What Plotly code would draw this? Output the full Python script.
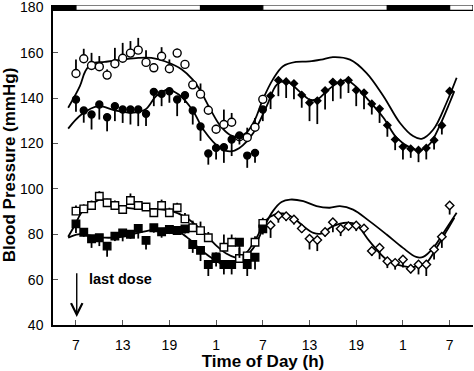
import plotly.graph_objects as go

# ---------------- data ----------------
hours_day1 = list(range(7, 32))          # 7 .. 31
hours_all = list(range(7, 56))           # 7 .. 55
hours_day2 = list(range(32, 56))         # 32 .. 55

sys_open = [150.9, 157.4, 154.4, 153.9, 150.2, 155.2, 157.6, 159.9, 161.2, 155.8,
            153.4, 158.5, 153.0, 159.9, 154.9, 145.9, 141.8, 134.7, 126.3, 128.4,
            129.4, 123.0, 122.7, 127.2, 139.5]
sys_open_err = [6.2, 4.4, 5.6, 4.7, 2.5, 7.0, 6.8, 5.3, 5.4, 5.3,
                2.0, 4.0, 4.1, 2.0, 2.0, 2.0, 4.7, 2.0, 2.0, 6.6,
                4.1, 2.0, 4.3, 4.1, 2.0]

sys_fill = [139.4, 134.6, 132.8, 137.2, 131.6, 136.5, 135.0, 135.0, 135.0, 133.1,
            142.8, 141.9, 143.1, 139.4, 141.3, 134.6, 127.5, 115.6, 118.1, 118.4,
            121.8, 123.6, 114.7, 115.9, 135.0,
            141.1, 147.9, 147.3, 146.5, 141.4, 138.0, 138.9, 143.4, 147.1, 146.8,
            147.9, 143.5, 142.4, 137.5, 135.3, 128.1, 121.8, 118.6, 117.7, 117.1,
            118.0, 121.5, 128.0, 143.1]
sys_fill_err = [5.4, 5.4, 6.6, 6.6, 6.2, 6.6, 5.9, 6.6, 7.3, 5.4,
                6.3, 5.4, 5.1, 7.3, 3.4, 6.2, 6.3, 4.9, 5.1, 6.9,
                7.3, 4.0, 5.4, 4.4, 5.1,
                5.9, 7.0, 7.2, 7.0, 5.6, 8.1, 10.3, 8.4, 8.4, 7.0,
                5.6, 7.0, 7.3, 4.7, 6.2, 5.1, 4.7, 5.6, 4.0, 5.3,
                5.0, 4.1, 4.0, 0.0]

dia_open = [90.2, 91.2, 92.7, 96.8, 93.9, 92.7, 90.9, 94.9, 92.7, 92.0,
            89.5, 92.7, 89.5, 91.7, 86.8, 82.9, 81.6, 78.5, 70.0, 74.3,
            76.5, 69.3, 70.5, 76.5, 84.8]
dia_open_err = [2.5, 2.0, 2.2, 2.2, 1.8, 2.2, 1.5, 3.1, 1.5, 1.6,
                1.5, 2.6, 2.2, 2.2, 2.6, 3.1, 4.0, 2.5, 2.0, 5.6,
                3.4, 4.7, 2.0, 2.6, 2.5]

dia_fill = [84.6, 80.9, 78.0, 78.5, 74.8, 79.2, 80.6, 80.0, 82.6, 77.3,
            82.9, 81.1, 82.1, 81.7, 82.4, 75.5, 72.9, 66.7, 69.3, 66.7,
            66.7, 76.5, 66.7, 69.9, 82.4]
dia_fill_err = [4.0, 2.0, 4.0, 3.7, 4.7, 2.2, 3.7, 2.0, 4.5, 4.0,
                2.2, 2.6, 2.0, 2.0, 2.0, 3.7, 4.7, 5.1, 3.5, 4.4,
                4.4, 6.9, 5.1, 5.4, 2.5]

dia_day2 = [84.0, 88.3, 88.0, 86.5, 82.6, 78.0, 77.5, 81.0, 85.3, 82.4,
            83.6, 83.9, 82.6, 72.6, 74.1, 68.1, 67.4, 68.9, 64.8, 66.7,
            66.7, 73.3, 78.9, 92.7]
dia_day2_err = [5.6, 3.2, 2.2, 2.2, 2.0, 4.7, 4.9, 2.0, 4.4, 3.2,
                1.5, 2.5, 2.0, 2.2, 5.1, 3.0, 3.0, 3.5, 2.0, 4.4,
                5.1, 4.4, 4.9, 4.0]

# fitted curves (read at selected hours)
sys_up_h = [6, 7.5, 8.2, 9, 10.7, 12.9, 15, 16.7, 18.4, 20.6, 22.0, 23.0, 24.2, 25.5,
            26.8, 27.8, 28.9, 30, 31, 32.3, 33.6, 35.3, 37, 38.5, 40, 42.2, 44.3,
            46.5, 48.6, 50.3, 51.4, 52.9, 54.6, 55.9]
sys_up_v = [135.8, 145.3, 151.9, 155.2, 156.0, 157.0, 157.8, 157.8, 156.3, 152.7,
            148.2, 143.2, 135.5, 128.0, 123.8, 123.0, 124.8, 130.6, 139.4, 148.3,
            154.1, 156.0, 156.2, 157.0, 158.1, 157.0, 151.2, 140.9, 129.2, 123.3,
            122.1, 126.2, 138.0, 149.0]

sys_lo_h = [6, 7.7, 9.9, 12, 14.1, 15.9, 17.3, 18.8, 20.2, 22, 23.4, 25.5, 26.8, 28,
            29.8, 31.5, 32.8, 34, 35.8, 37, 38.1, 39.2, 40.5, 41.8, 43, 44.7, 46.5,
            48.2, 50, 51.2, 52.4, 53.7, 55, 55.6]
sys_lo_v = [126.6, 132.8, 136.5, 134.6, 133.6, 135.0, 140.9, 143.8, 141.6, 134.6,
            126.0, 118.1, 116.6, 118.1, 124.8, 136.5, 146.0, 147.5, 142.7, 139.4,
            139.7, 143.1, 146.5, 147.9, 145.0, 138.7, 131.4, 122.5, 118.1, 117.1,
            119.6, 127.7, 138.0, 143.1]

dia_up_h = [6, 6.9, 7.7, 9, 10.1, 11.1, 12.9, 15, 17.1, 19.3, 21, 22.3, 23.5, 25.1,
            26.3, 27.6, 28.5, 29.8, 31, 32.3, 33.4, 34.5, 36.2, 37.9, 39.6, 40.9,
            42.6, 44.7, 46.9, 49, 50.7, 51.6, 52.9, 54.2, 55.9]
dia_up_v = [78.9, 84.3, 89.5, 93.1, 95.3, 94.2, 92.1, 91.2, 91.2, 90.2, 87.7, 84.3,
            80.4, 74.8, 71.5, 69.6, 69.6, 74.0, 82.1, 90.2, 94.2, 95.3, 94.6, 92.4,
            91.7, 92.4, 90.9, 85.8, 79.9, 74.0, 70.0, 70.0, 74.0, 80.6, 89.5]

dia_lo_h = [6, 7.3, 8.6, 10.7, 12.9, 15, 17.1, 18.8, 20.1, 21.5, 23.2, 25.1, 26.3,
            27.6, 28.9, 30.2, 31.5, 32.5, 33.6, 34.9, 36.2, 37.5, 38.5, 40, 41.8,
            43, 44.7, 46.9, 49, 50.7, 52, 53.3, 54.6, 55.6]
dia_lo_v = [78.5, 80.0, 79.5, 78.5, 78.9, 80.6, 82.1, 82.4, 81.4, 78.0, 72.6, 68.1,
            66.2, 68.1, 71.8, 78.5, 86.5, 88.7, 89.2, 87.3, 83.6, 80.6, 80.3, 83.6,
            85.1, 84.3, 77.0, 68.9, 66.0, 65.7, 67.4, 74.0, 81.4, 87.3]

# light/dark bar: (start, end, colour)
bar_start = [4.05, 7, 23, 31, 47, 55]
bar_end = [7, 23, 31, 47, 55, 58]
bar_dark = [True, False, True, False, True, False]

tick_vals = [7, 13, 19, 25, 31, 37, 43, 49, 55]
tick_text = ["7", "13", "19", "1", "7", "13", "19", "1", "7"]
y_ticks = [40, 60, 80, 100, 120, 140, 160, 180]

# ---------------- figure ----------------
fig = go.Figure()
LINE = dict(color="black", width=1.8, shape="spline", smoothing=1.0)
for hx, vy in [(sys_up_h, sys_up_v), (sys_lo_h, sys_lo_v),
               (dia_up_h, dia_up_v), (dia_lo_h, dia_lo_v)]:
    fig.add_trace(go.Scatter(x=hx, y=vy, mode="lines", line=LINE,
                             hoverinfo="skip", showlegend=False))

def add_pts(x, y, err, up, symbol, fill, size):
    zeros = [0] * len(err)
    fig.add_trace(go.Scatter(
        x=x, y=y, mode="markers",
        marker=dict(symbol=symbol, size=size, color=fill,
                    line=dict(color="black", width=1.4)),
        error_y=dict(type="data", symmetric=False,
                     array=err if up else zeros,
                     arrayminus=zeros if up else err,
                     color="black", thickness=1.8, width=0),
        showlegend=False))

n1 = len(hours_day1)
add_pts(hours_day1, sys_open, sys_open_err, True, "circle", "white", 8)
add_pts(hours_day1, sys_fill[:n1], sys_fill_err[:n1], False, "circle", "black", 7)
add_pts(hours_day2, sys_fill[n1:], sys_fill_err[n1:], False, "diamond", "black", 5.5)
add_pts(hours_day1, dia_open, dia_open_err, True, "square", "white", 7.5)
add_pts(hours_day1, dia_fill, dia_fill_err, False, "square", "black", 7.5)
add_pts(hours_day2, dia_day2, dia_day2_err, False, "diamond", "white", 6.5)

shapes = []
for s, e, d in zip(bar_start, bar_end, bar_dark):
    shapes.append(dict(type="rect", xref="x", yref="y", x0=s, x1=e,
                       y0=178.7, y1=181.1, fillcolor="black" if d else "white",
                       line=dict(color="black", width=1.2), layer="above"))

FONT = "Liberation Sans, Arial, Helvetica, sans-serif"
fig.update_layout(
    width=474, height=371,
    margin=dict(l=53, r=1, t=5, b=46, autoexpand=False),
    paper_bgcolor="white", plot_bgcolor="white",
    font=dict(family=FONT, color="black"),
    shapes=shapes,
    annotations=[
        dict(x=8.4, y=60.5, xref="x", yref="y", text="<b>last dose</b>",
             showarrow=False, xanchor="left", yanchor="middle",
             font=dict(size=14.5, family=FONT, color="black")),
        dict(x=7.1, y=43.5, ax=7.1, ay=63.5, xref="x", yref="y",
             axref="x", ayref="y", text="", showarrow=True,
             arrowhead=5, arrowsize=1.6, arrowwidth=1.4, arrowcolor="black"),
    ],
    xaxis=dict(range=[4.05, 58], tickvals=tick_vals, ticktext=tick_text,
               ticks="inside", ticklen=5, tickwidth=1, tickcolor="#555",
               showline=True, linecolor="black", linewidth=1.5,
               showgrid=False, zeroline=False, ticklabelstandoff=6,
               ticklabeloverflow="allow", automargin=False,
               tickfont=dict(size=14, family=FONT),
               title=dict(text="<b>Time of Day (h)</b>", standoff=8,
                          font=dict(size=17, family=FONT))),
    yaxis=dict(range=[40, 181.1], tickvals=y_ticks,
               ticks="inside", ticklen=5, tickwidth=1, tickcolor="#555",
               showline=True, linecolor="black", linewidth=1.5,
               showgrid=False, zeroline=False, ticklabelstandoff=5,
               ticklabeloverflow="allow", automargin=False,
               tickfont=dict(size=14, family=FONT),
               title=dict(text="<b>Blood Pressure (mmHg)</b>", standoff=6,
                          font=dict(size=17, family=FONT))),
)
fig.update_xaxes(tickprefix="<b>", ticksuffix="</b>")
fig.update_yaxes(tickprefix="<b>", ticksuffix="</b>")

fig.write_html("out.html",
               config={"displayModeBar": False},
               post_script="document.body.style.margin='0';"
                           "document.body.style.padding='0';")
